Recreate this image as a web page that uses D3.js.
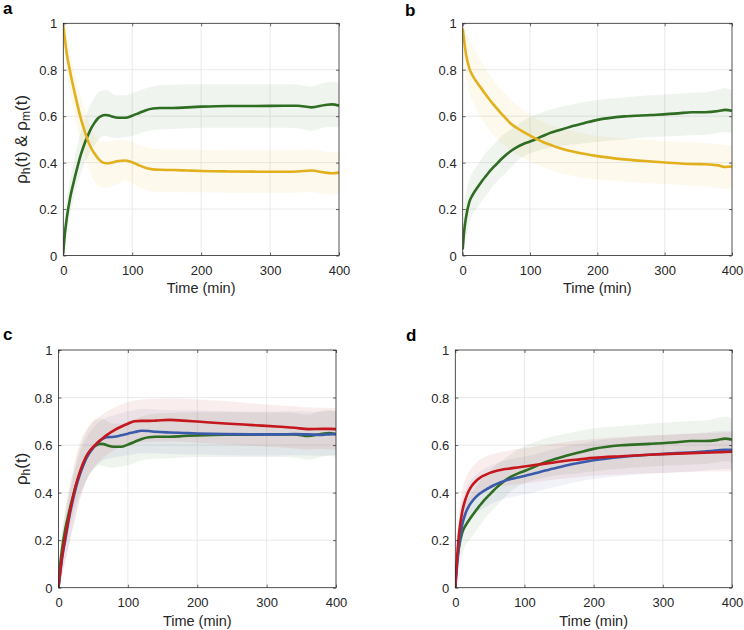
<!DOCTYPE html>
<html><head><meta charset="utf-8">
<script src="https://cdn.jsdelivr.net/npm/d3@7"></script>
<style>
html,body{margin:0;padding:0;background:#fff;}
text{font-family:"Liberation Sans",Arial,Helvetica,sans-serif;}
</style></head>
<body>
<svg id="fig" width="744" height="630"></svg>
<script>
// ---------- DATA ----------
const T = [0,2,5,10,15,20,25,30,35,40,45,50,55,60,65,70,80,90,100,110,120,130,140,160,180,200,240,280,320,340,360,380,390,400];
const xTicks = [0,100,200,300,400];
const yTicks = [0,0.2,0.4,0.6,0.8,1];

// panel a / c : green (rho_h) and yellow (rho_m)
const hA    = [0.01,0.085,0.16,0.25,0.315,0.375,0.43,0.475,0.512,0.545,0.57,0.59,0.6,0.605,0.604,0.599,0.593,0.593,0.602,0.614,0.626,0.633,0.635,0.635,0.638,0.641,0.644,0.644,0.645,0.645,0.638,0.648,0.651,0.645];
const hA_hi = [0.02,0.15,0.24,0.33,0.40,0.47,0.53,0.58,0.62,0.655,0.68,0.70,0.708,0.712,0.71,0.70,0.69,0.69,0.70,0.71,0.72,0.728,0.733,0.735,0.737,0.738,0.738,0.737,0.737,0.735,0.728,0.745,0.748,0.742];
const hA_lo = [0.005,0.04,0.10,0.18,0.24,0.30,0.35,0.39,0.42,0.45,0.475,0.495,0.51,0.515,0.512,0.508,0.505,0.51,0.515,0.525,0.535,0.54,0.543,0.545,0.548,0.55,0.55,0.55,0.55,0.548,0.538,0.552,0.555,0.55];
const mA    = [0.99,0.94,0.87,0.79,0.72,0.655,0.595,0.545,0.5,0.465,0.44,0.42,0.405,0.398,0.397,0.4,0.407,0.409,0.402,0.388,0.377,0.371,0.369,0.368,0.366,0.364,0.362,0.361,0.361,0.362,0.366,0.357,0.354,0.357];
const mA_hi = [1.0,0.99,0.95,0.87,0.81,0.75,0.69,0.64,0.59,0.55,0.52,0.50,0.492,0.49,0.49,0.493,0.497,0.497,0.49,0.475,0.465,0.46,0.458,0.457,0.456,0.455,0.453,0.452,0.452,0.453,0.456,0.447,0.445,0.447];
const mA_lo = [0.97,0.89,0.80,0.70,0.62,0.55,0.49,0.44,0.39,0.35,0.32,0.302,0.295,0.292,0.292,0.298,0.31,0.322,0.31,0.295,0.282,0.276,0.274,0.273,0.272,0.272,0.27,0.27,0.27,0.271,0.274,0.265,0.262,0.265];

// panel b / d
const hB    = [0.026,0.1,0.165,0.232,0.262,0.285,0.306,0.326,0.344,0.362,0.378,0.393,0.408,0.422,0.435,0.447,0.466,0.48,0.491,0.503,0.516,0.528,0.537,0.555,0.57,0.584,0.599,0.605,0.612,0.617,0.617,0.622,0.627,0.623];
const hB_hi = [0.05,0.2,0.27,0.33,0.36,0.38,0.405,0.425,0.445,0.46,0.475,0.49,0.505,0.52,0.53,0.54,0.56,0.58,0.595,0.607,0.618,0.628,0.636,0.648,0.66,0.67,0.68,0.69,0.697,0.701,0.703,0.715,0.72,0.713];
const hB_lo = [0.01,0.04,0.08,0.14,0.18,0.2,0.22,0.24,0.26,0.28,0.3,0.315,0.33,0.345,0.36,0.375,0.405,0.425,0.44,0.45,0.458,0.465,0.47,0.477,0.483,0.49,0.5,0.51,0.515,0.518,0.52,0.528,0.532,0.527];
const mB    = [0.978,0.93,0.865,0.805,0.773,0.75,0.73,0.71,0.69,0.671,0.653,0.636,0.619,0.603,0.587,0.572,0.55,0.532,0.516,0.501,0.488,0.477,0.466,0.45,0.438,0.428,0.414,0.405,0.397,0.394,0.393,0.388,0.381,0.383];
const mB_hi = [1.0,0.99,0.96,0.93,0.9,0.875,0.85,0.825,0.8,0.78,0.76,0.74,0.72,0.705,0.69,0.675,0.65,0.625,0.605,0.59,0.575,0.562,0.552,0.537,0.525,0.515,0.505,0.497,0.49,0.487,0.485,0.48,0.476,0.477];
const mB_lo = [0.95,0.85,0.77,0.7,0.66,0.63,0.6,0.58,0.56,0.54,0.52,0.505,0.49,0.478,0.466,0.455,0.437,0.42,0.405,0.392,0.38,0.37,0.36,0.345,0.335,0.328,0.318,0.31,0.305,0.302,0.298,0.29,0.287,0.29];

// panel c extra series
const cBlue    = [0.0,0.05,0.12,0.205,0.29,0.36,0.42,0.47,0.51,0.545,0.57,0.588,0.605,0.618,0.628,0.633,0.635,0.641,0.648,0.655,0.66,0.659,0.656,0.653,0.651,0.649,0.646,0.645,0.645,0.646,0.645,0.643,0.645,0.647];
const cBlue_hi = [0.01,0.1,0.19,0.29,0.38,0.45,0.51,0.56,0.6,0.63,0.655,0.672,0.688,0.7,0.71,0.718,0.726,0.734,0.742,0.748,0.752,0.752,0.75,0.748,0.746,0.745,0.742,0.741,0.741,0.742,0.741,0.74,0.742,0.744];
const cBlue_lo = [0,0.02,0.05,0.11,0.18,0.25,0.31,0.37,0.41,0.45,0.48,0.5,0.515,0.527,0.537,0.543,0.547,0.552,0.557,0.562,0.566,0.566,0.565,0.563,0.561,0.56,0.557,0.556,0.556,0.557,0.556,0.554,0.556,0.558];
const cRed     = [0.0,0.055,0.13,0.22,0.3,0.37,0.43,0.48,0.52,0.553,0.575,0.592,0.607,0.62,0.632,0.643,0.662,0.677,0.69,0.7,0.702,0.702,0.703,0.706,0.703,0.699,0.691,0.684,0.677,0.673,0.667,0.668,0.668,0.667];
const cRed_hi  = [0.01,0.12,0.21,0.32,0.41,0.48,0.55,0.6,0.64,0.665,0.685,0.7,0.712,0.722,0.732,0.742,0.757,0.77,0.78,0.788,0.792,0.794,0.795,0.796,0.795,0.792,0.785,0.775,0.767,0.763,0.758,0.757,0.756,0.755];
const cRed_lo  = [0,0.02,0.06,0.12,0.18,0.24,0.3,0.36,0.41,0.45,0.48,0.5,0.52,0.535,0.548,0.56,0.578,0.592,0.602,0.61,0.612,0.613,0.614,0.616,0.614,0.61,0.603,0.596,0.59,0.586,0.581,0.582,0.581,0.58];

// panel d extra series
const dBlue    = [0.0,0.075,0.17,0.265,0.315,0.345,0.366,0.382,0.395,0.405,0.414,0.422,0.43,0.437,0.443,0.448,0.457,0.464,0.47,0.477,0.485,0.493,0.5,0.514,0.526,0.536,0.55,0.559,0.566,0.569,0.573,0.578,0.58,0.58];
const dBlue_hi = [0.01,0.15,0.26,0.36,0.41,0.44,0.46,0.475,0.487,0.497,0.505,0.512,0.518,0.524,0.529,0.533,0.541,0.547,0.552,0.558,0.566,0.574,0.581,0.595,0.607,0.617,0.63,0.639,0.646,0.649,0.653,0.658,0.66,0.66];
const dBlue_lo = [0,0.02,0.1,0.2,0.25,0.28,0.298,0.312,0.324,0.333,0.342,0.35,0.357,0.363,0.368,0.373,0.381,0.387,0.392,0.398,0.406,0.414,0.421,0.435,0.447,0.457,0.47,0.479,0.486,0.489,0.493,0.498,0.5,0.5];
const dRed     = [0.0,0.1,0.215,0.32,0.375,0.41,0.433,0.449,0.461,0.47,0.477,0.483,0.488,0.492,0.495,0.498,0.502,0.506,0.51,0.514,0.518,0.522,0.526,0.534,0.54,0.546,0.553,0.559,0.564,0.566,0.568,0.57,0.571,0.572];
const dRed_hi  = [0.01,0.2,0.31,0.41,0.46,0.49,0.51,0.525,0.537,0.546,0.553,0.558,0.563,0.567,0.57,0.573,0.578,0.583,0.587,0.591,0.596,0.6,0.605,0.613,0.62,0.626,0.634,0.64,0.645,0.648,0.65,0.652,0.653,0.654];
const dRed_lo  = [0,0.03,0.12,0.23,0.29,0.33,0.36,0.375,0.39,0.4,0.41,0.415,0.42,0.423,0.426,0.428,0.432,0.435,0.438,0.442,0.446,0.45,0.454,0.46,0.466,0.471,0.476,0.481,0.485,0.487,0.489,0.49,0.49,0.49];

// ---------- STYLE ----------
const GREEN = "#2e6d22", YELLOW = "#e2b01c", BLUE = "#3a5bab", RED = "#c4171e";
const AX = "#262626", GRID = "#e4e4e4";

const svg = d3.select("#fig");

const panels = [
  {id:"a", L:63.3, R:339, Tp:23.3, B:255.5, lx:3, ly:14, ylabel:"am",
   series:[{c:GREEN,v:hA,hi:hA_hi,lo:hA_lo},{c:YELLOW,v:mA,hi:mA_hi,lo:mA_lo}]},
  {id:"b", L:462.7, R:732, Tp:23.3, B:255.5, lx:405, ly:16, ylabel:null,
   series:[{c:GREEN,v:hB,hi:hB_hi,lo:hB_lo},{c:YELLOW,v:mB,hi:mB_hi,lo:mB_lo}]},
  {id:"c", L:58.5, R:336, Tp:350, B:587.7, lx:3, ly:340, ylabel:"h",
   series:[{c:GREEN,v:hA,hi:hA_hi,lo:hA_lo},{c:BLUE,v:cBlue,hi:cBlue_hi,lo:cBlue_lo},{c:RED,v:cRed,hi:cRed_hi,lo:cRed_lo}]},
  {id:"d", L:455.3, R:732, Tp:350, B:587.7, lx:406, ly:341, ylabel:null,
   series:[{c:GREEN,v:hB,hi:hB_hi,lo:hB_lo},{c:BLUE,v:dBlue,hi:dBlue_hi,lo:dBlue_lo},{c:RED,v:dRed,hi:dRed_hi,lo:dRed_lo}]}
];

panels.forEach(p => {
  const x = d3.scaleLinear().domain([0,400]).range([p.L,p.R]);
  const y = d3.scaleLinear().domain([0,1]).range([p.B,p.Tp]);
  const g = svg.append("g");

  const cid = "clip"+p.id;
  svg.append("clipPath").attr("id",cid).append("rect")
    .attr("x",p.L).attr("y",p.Tp).attr("width",p.R-p.L).attr("height",p.B-p.Tp);

  // grid
  g.append("g").selectAll("line").data(xTicks.slice(1,-1)).join("line")
    .attr("x1",d=>x(d)).attr("x2",d=>x(d)).attr("y1",p.Tp).attr("y2",p.B)
    .attr("stroke",GRID).attr("stroke-width",0.8);
  g.append("g").selectAll("line").data(yTicks.slice(1,-1)).join("line")
    .attr("y1",d=>y(d)).attr("y2",d=>y(d)).attr("x1",p.L).attr("x2",p.R)
    .attr("stroke",GRID).attr("stroke-width",0.8);

  const plot = g.append("g").attr("clip-path",`url(#${cid})`);
  const area = d3.area().x((d,i)=>x(T[i])).y0(d=>y(d[0])).y1(d=>y(d[1])).curve(d3.curveMonotoneX);
  const line = d3.line().x((d,i)=>x(T[i])).y(d=>y(d)).curve(d3.curveMonotoneX);

  p.series.forEach(s => {
    plot.append("path").datum(s.lo.map((lo,i)=>[lo,s.hi[i]]))
      .attr("d",area).attr("fill",s.c).attr("fill-opacity",0.08).attr("stroke","none");
  });
  p.series.forEach(s => {
    plot.append("path").datum(s.v).attr("d",line)
      .attr("fill","none").attr("stroke",s.c).attr("stroke-width",2.6)
      .attr("stroke-linejoin","round").attr("stroke-linecap","butt");
  });

  // axes (ticks inward on all four sides)
  const tl = 3;
  const xa = g.append("g").attr("transform",`translate(0,${p.B})`)
    .call(d3.axisBottom(x).tickValues(xTicks).tickSize(-tl).tickPadding(8).tickFormat(d3.format("d")));
  const xt = g.append("g").attr("transform",`translate(0,${p.Tp})`)
    .call(d3.axisTop(x).tickValues(xTicks).tickSize(-tl).tickFormat(""));
  const ya = g.append("g").attr("transform",`translate(${p.L},0)`)
    .call(d3.axisLeft(y).tickValues(yTicks).tickSize(-tl).tickPadding(6).tickFormat(d=>d===0?"0":d===1?"1":d3.format(".1f")(d)));
  const yr = g.append("g").attr("transform",`translate(${p.R},0)`)
    .call(d3.axisRight(y).tickValues(yTicks).tickSize(-tl).tickFormat(""));
  [xa,xt,ya,yr].forEach(a=>{
    a.select(".domain").remove();
    a.selectAll("line").attr("stroke",AX).attr("stroke-width",0.7);
    a.selectAll("text").attr("fill",AX).style("font-size","13px")
      .style("font-family","'Liberation Sans',Arial,sans-serif");
  });
  xa.selectAll("text").attr("dy",null).attr("y",19.3);
  ya.selectAll("text").attr("dy","0.35em");

  g.append("rect").attr("x",p.L).attr("y",p.Tp).attr("width",p.R-p.L).attr("height",p.B-p.Tp)
    .attr("fill","none").attr("stroke",AX).attr("stroke-width",0.8);

  // x label
  g.append("text").attr("x",(p.L+p.R)/2).attr("y",p.B+37.8).attr("text-anchor","middle")
    .attr("fill",AX).style("font-size","14.5px").text("Time (min)");

  // y label
  if (p.ylabel) {
    const yl = g.append("text").attr("text-anchor","middle").attr("fill",AX)
      .attr("transform",`translate(27,${(p.Tp+p.B)/2}) rotate(-90)`).style("font-size","17px");
    yl.append("tspan").text("ρ");
    yl.append("tspan").attr("baseline-shift","-25%").style("font-size","12px").text("h");
    yl.append("tspan").text("(t)");
    if (p.ylabel==="am") {
      yl.append("tspan").text(" & ρ");
      yl.append("tspan").attr("baseline-shift","-25%").style("font-size","12px").text("m");
      yl.append("tspan").text("(t)");
    }
  }

  // panel letter
  svg.append("text").attr("x",p.lx).attr("y",p.ly).attr("fill","#000")
    .style("font-size","17px").style("font-weight","bold").text(p.id);
});
</script>
</body></html>
